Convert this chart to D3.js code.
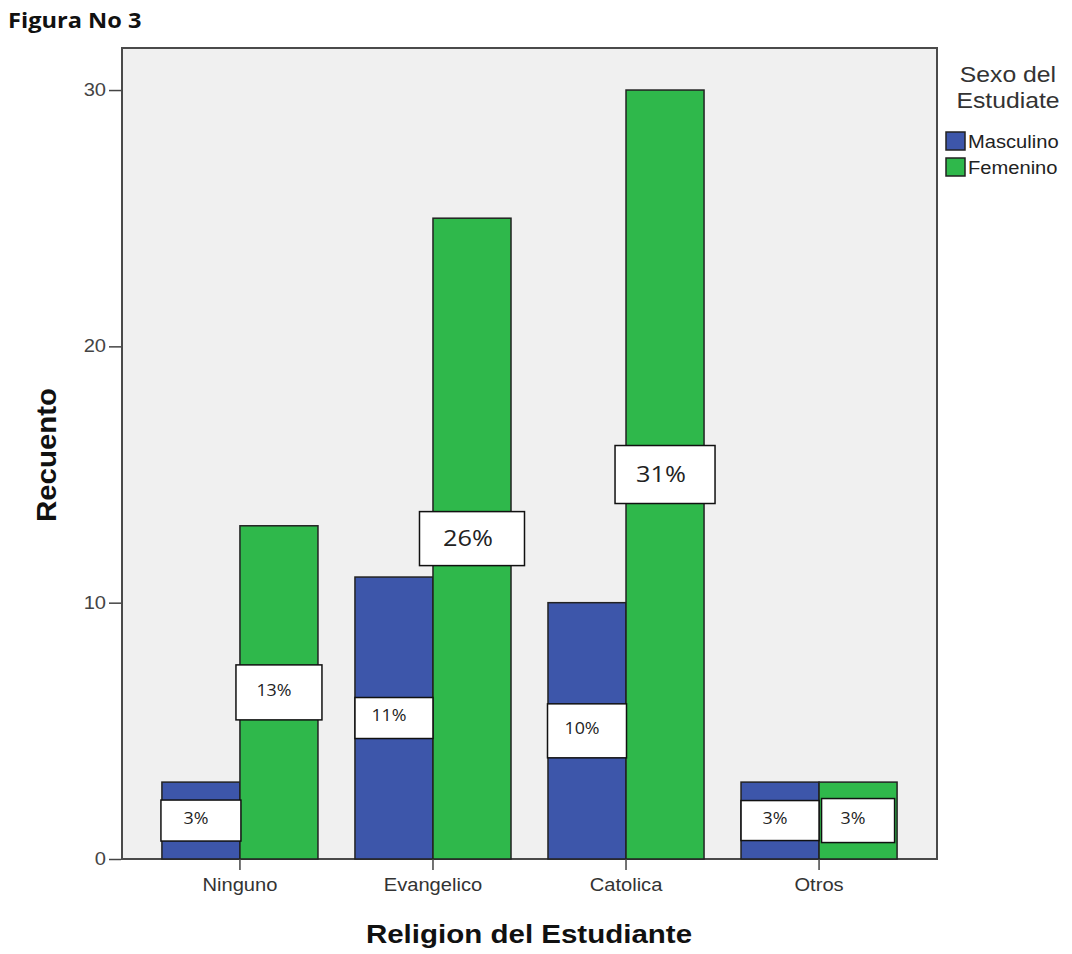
<!DOCTYPE html>
<html>
<head>
<meta charset="utf-8">
<script src="https://cdn.jsdelivr.net/npm/d3@7"></script>
<style>
  html, body { margin: 0; padding: 0; background: #fff; }
  svg { display: block; }
</style>
</head>
<body>
<svg id="chart" width="1072" height="954"></svg>
<script>
// Data
const categories = ["Ninguno", "Evangelico", "Catolica", "Otros"];
const series = ["Masculino", "Femenino"];
const masculino = [3, 11, 10, 3];
const femenino = [13, 25, 30, 3];
const pctMasculino = ["3%", "11%", "10%", "3%"];
const pctFemenino = ["13%", "26%", "31%", "3%"];
const yTicks = [0, 10, 20, 30];

// Label box sizes [width, height] per series and category
const boxSizes = {
  Masculino: [[80, 41], [78, 41], [79, 54], [78, 40]],
  Femenino:  [[86, 55], [105, 54], [100, 58], [73, 44]]
};
const colors = { Masculino: "#3d56aa", Femenino: "#2fb84b" };

const svg = d3.select("#chart");
const plot = { left: 122, top: 48, right: 937, bottom: 859 };
const STRETCH = 1.15;

function stretch(sel, k) {
  sel.each(function () {
    const len = this.getComputedTextLength();
    d3.select(this).attr("textLength", len * k).attr("lengthAdjust", "spacingAndGlyphs");
  });
}

const y = d3.scaleLinear().domain([0, 31.64]).range([plot.bottom, plot.top]);
const x0 = d3.scaleBand().domain(categories).range([plot.left, plot.right])
  .paddingInner(0).paddingOuter(0.111);
const x1 = d3.scaleBand().domain(series).range([0, x0.bandwidth()])
  .paddingInner(0).paddingOuter(0.237);

const rows = categories.map((c, i) => ({
  cat: c,
  vals: [
    { s: "Masculino", v: masculino[i], pct: pctMasculino[i], box: boxSizes.Masculino[i] },
    { s: "Femenino", v: femenino[i], pct: pctFemenino[i], box: boxSizes.Femenino[i] }
  ]
}));

// Title
svg.append("text").attr("x", 8).attr("y", 28)
  .attr("font-family", "'Open Sans', sans-serif").attr("font-weight", "bold")
  .attr("font-size", 20.5).attr("fill", "#111").text("Figura No 3")
  .call(stretch, STRETCH);

// Plot background and frame
svg.append("rect")
  .attr("x", plot.left).attr("y", plot.top)
  .attr("width", plot.right - plot.left).attr("height", plot.bottom - plot.top)
  .attr("fill", "#f0f0f0").attr("stroke", "#4a4a4a").attr("stroke-width", 2);

// Bars
const groups = svg.append("g").selectAll("g").data(rows).join("g")
  .attr("transform", d => `translate(${x0(d.cat)},0)`);

groups.selectAll("rect.bar").data(d => d.vals).join("rect")
  .attr("class", "bar")
  .attr("x", d => x1(d.s)).attr("width", x1.bandwidth())
  .attr("y", d => y(d.v)).attr("height", d => y(0) - y(d.v))
  .attr("fill", d => colors[d.s]).attr("stroke", "#222").attr("stroke-width", 1.5);

// Percentage labels
const lab = groups.selectAll("g.lab").data(d => d.vals).join("g").attr("class", "lab")
  .attr("transform", d => `translate(${x1(d.s) + x1.bandwidth() / 2},${y(d.v / 2)})`);

lab.append("rect")
  .attr("x", d => -d.box[0] / 2).attr("y", d => -d.box[1] / 2)
  .attr("width", d => d.box[0]).attr("height", d => d.box[1])
  .attr("fill", "#fff").attr("stroke", "#111").attr("stroke-width", 1.5);

lab.append("text")
  .attr("x", d => d.box[0] > 95 ? -4 : -5)
  .attr("y", d => d.box[0] > 95 ? 2 : -1)
  .attr("text-anchor", "middle").attr("dominant-baseline", "middle")
  .attr("font-family", "'Open Sans', sans-serif")
  .attr("font-size", d => d.box[0] > 95 ? 22 : 15.5)
  .attr("fill", "#222")
  .text(d => d.pct)
  .call(stretch, STRETCH);

// Y axis
const yAxis = svg.append("g").attr("transform", `translate(${plot.left - 1},0)`)
  .call(d3.axisLeft(y).tickValues(yTicks).tickSize(12).tickPadding(3));
yAxis.select(".domain").remove();
yAxis.selectAll("line").attr("stroke", "#444").attr("stroke-width", 1.5);
yAxis.selectAll("text").attr("font-family", "'Liberation Sans', Arial, sans-serif")
  .attr("font-size", 17.5).attr("fill", "#444").call(stretch, STRETCH);

// X axis
const xAxis = svg.append("g").attr("transform", `translate(0,${plot.bottom})`)
  .call(d3.axisBottom(x0).tickSize(11).tickPadding(9));
xAxis.select(".domain").remove();
xAxis.selectAll("line").attr("stroke", "#444").attr("stroke-width", 1.5);
xAxis.selectAll("text").attr("font-family", "'Liberation Sans', Arial, sans-serif")
  .attr("font-size", 17.5).attr("fill", "#333").call(stretch, STRETCH);

// Axis titles
svg.append("text").attr("x", (plot.left + plot.right) / 2 - 0.5).attr("y", 943)
  .attr("text-anchor", "middle")
  .attr("font-family", "'Liberation Sans', Arial, sans-serif").attr("font-weight", "bold")
  .attr("font-size", 25).attr("fill", "#111").text("Religion del Estudiante")
  .call(stretch, 1.18);

svg.append("text").attr("transform", "translate(56,455) rotate(-90)")
  .attr("text-anchor", "middle")
  .attr("font-family", "'Liberation Sans', Arial, sans-serif").attr("font-weight", "bold")
  .attr("font-size", 27).attr("fill", "#111").text("Recuento")
  .call(stretch, 1.09);

// Legend
const legend = svg.append("g");
legend.append("text").attr("x", 1008).attr("y", 82).attr("text-anchor", "middle")
  .attr("font-family", "'Liberation Sans', Arial, sans-serif").attr("font-size", 21.5)
  .attr("fill", "#333").text("Sexo del").call(stretch, STRETCH);
legend.append("text").attr("x", 1008).attr("y", 108).attr("text-anchor", "middle")
  .attr("font-family", "'Liberation Sans', Arial, sans-serif").attr("font-size", 21.5)
  .attr("fill", "#333").text("Estudiate").call(stretch, STRETCH);

const items = legend.selectAll("g.item").data(series).join("g").attr("class", "item")
  .attr("transform", (d, i) => `translate(946,${132 + i * 26})`);
items.append("rect").attr("width", 19).attr("height", 18)
  .attr("fill", d => colors[d]).attr("stroke", "#222").attr("stroke-width", 1.5);
items.append("text").attr("x", 22).attr("y", 16)
  .attr("font-family", "'Liberation Sans', Arial, sans-serif").attr("font-size", 17.5)
  .attr("fill", "#222").text(d => d).call(stretch, STRETCH);
</script>
</body>
</html>
